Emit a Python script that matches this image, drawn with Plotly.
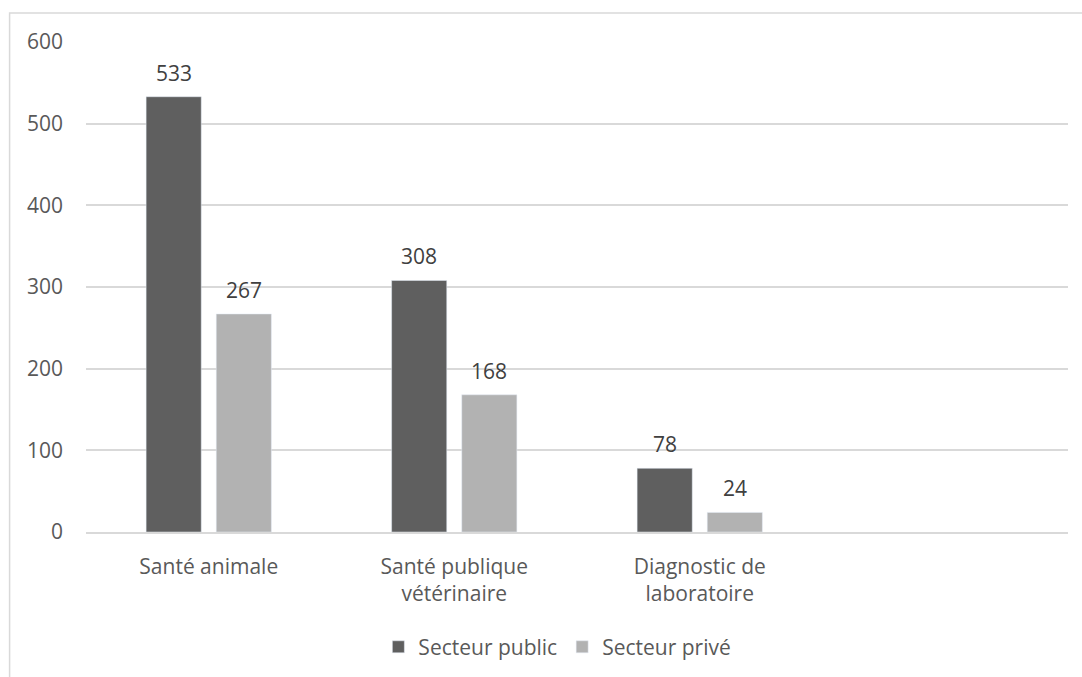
import plotly.graph_objects as go

categories = ["Santé animale", "Santé publique<br>vétérinaire", "Diagnostic de<br>laboratoire"]
public = [533, 308, 78]
prive = [267, 168, 24]
y_ticks = [0, 100, 200, 300, 400, 500, 600]

FONT = "'Open Sans', sans-serif"
TXT = "#595959"
FS = 21

fig = go.Figure()
fig.add_trace(go.Bar(name="Secteur public", x=categories, y=public,
                     marker=dict(color="#5f5f5f")))
fig.add_trace(go.Bar(name="Secteur privé", x=categories, y=prive,
                     marker=dict(color="#b2b2b2")))

# value labels above each bar (offset to the bar's slot in the group)
for vals, dx in ((public, -35), (prive, 35)):
    for cat, v in zip(categories, vals):
        fig.add_annotation(x=cat, y=v, text=str(v), showarrow=False,
                           xshift=dx, yshift=24, yanchor="middle",
                           font=dict(family=FONT, size=FS, color="#404040"))

# light frame around the chart area
fig.add_shape(type="rect", xref="paper", yref="paper",
              x0=-0.0778, x1=1.2, y0=-0.6, y1=1.059,
              line=dict(color="#d9d9d9", width=1.5), layer="below")

fig.update_layout(
    width=1082, height=677,
    margin=dict(l=86, r=14, t=42, b=145, autoexpand=False),
    paper_bgcolor="white", plot_bgcolor="white",
    barmode="group", bargap=0.4286, bargroupgap=0.214,
    font=dict(family=FONT, size=FS, color=TXT),
    showlegend=True,
    legend=dict(orientation="h", x=0.48, xanchor="center", y=-0.235, yanchor="middle",
                font=dict(family=FONT, size=FS, color=TXT), itemwidth=30,
                traceorder="normal"),
    xaxis=dict(type="category", range=[-0.5, 3.5], showgrid=False,
               showline=True, linecolor="#d9d9d9", linewidth=1.5,
               ticks="", ticklabelstandoff=15, automargin=False,
               tickfont=dict(family=FONT, size=FS, color=TXT)),
    yaxis=dict(range=[0, 600], tickvals=y_ticks, showgrid=True,
               gridcolor="#d9d9d9", gridwidth=1.5, zeroline=False,
               showline=False, ticks="", ticklabelstandoff=22, automargin=False,
               tickfont=dict(family=FONT, size=FS, color=TXT)),
)

fig.write_html("out.html")
